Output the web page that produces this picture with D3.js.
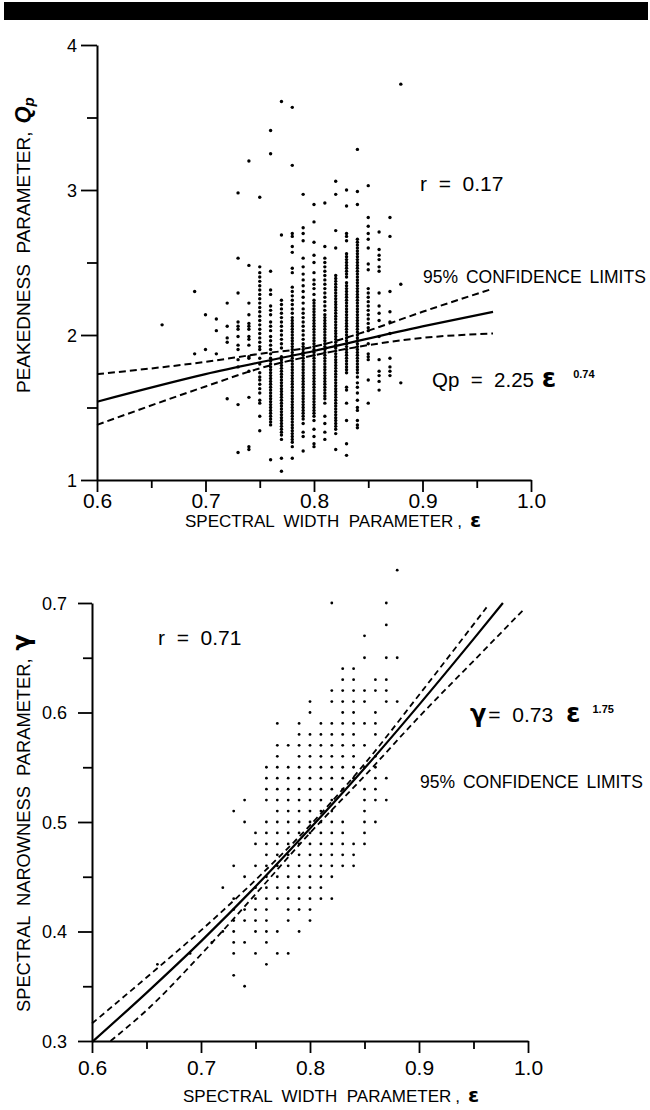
<!DOCTYPE html>
<html><head><meta charset="utf-8">
<script src="https://cdn.jsdelivr.net/npm/d3@7"></script>
<style>
body{margin:0;background:#fff;}
svg{display:block;font-family:"Liberation Sans",Arial,Helvetica,sans-serif;}
text{fill:#000;}
</style></head><body>
<svg id="c" width="650" height="1110"></svg>
<script>
// ---------- TOP PANEL DATA (peakedness Qp vs spectral width eps) ----------
const topEps = [0.66,0.69,0.70,0.71,0.72,0.73,0.74,0.75,0.76,0.77,0.78,0.79,0.80,0.81,0.82,0.83,0.84,0.85,0.86,0.87,0.88];
const topQp = [
 [2.07],
 [2.30,1.87],
 [2.14,1.90],
 [2.11,2.03,1.87],
 [2.22,2.06,1.98,1.95,1.56],
 [2.98,2.53,2.29,2.09,2.06,2.04,1.99,1.93,1.90,1.83,1.78,1.52,1.19],
 [3.20,2.48,2.22,2.14,2.08,2.06,2.04,1.99,1.97,1.93,1.85,1.84,1.75,1.57,1.23,1.21],
 [2.95,2.47,2.43,2.40,2.37,2.34,2.31,2.28,2.25,2.22,2.19,2.16,2.13,2.10,2.07,2.04,2.01,1.98,1.95,1.92,1.90,1.84,1.80,1.74,1.71,1.69,1.66,1.63,1.60,1.55,1.53,1.44,1.34],
 [3.41,3.25,2.44,2.31,2.28,2.20,2.17,2.14,2.09,2.06,2.03,1.99,1.96,1.93,1.90,1.87,1.84,1.82,1.80,1.78,1.76,1.74,1.72,1.70,1.68,1.66,1.64,1.62,1.60,1.58,1.56,1.54,1.52,1.50,1.48,1.46,1.44,1.42,1.40,1.38,1.14],
 [3.61,2.69,2.24,2.21,2.18,2.15,2.12,2.09,2.06,2.03,2.00,1.97,1.94,1.91,1.85,1.83,1.81,1.79,1.77,1.75,1.73,1.71,1.69,1.67,1.65,1.63,1.61,1.59,1.57,1.55,1.53,1.51,1.49,1.47,1.45,1.43,1.41,1.39,1.37,1.35,1.33,1.31,1.28,1.15,1.06],
 [3.57,3.17,2.70,2.68,2.61,2.57,2.46,2.43,2.33,2.30,2.27,2.24,2.21,2.18,2.15,2.12,2.10,2.08,2.06,2.04,2.02,2.00,1.98,1.96,1.94,1.92,1.90,1.88,1.86,1.84,1.82,1.80,1.78,1.76,1.74,1.72,1.70,1.68,1.66,1.64,1.62,1.60,1.58,1.56,1.54,1.52,1.50,1.48,1.46,1.44,1.42,1.40,1.38,1.36,1.34,1.32,1.30,1.28,1.26,1.23,1.15],
 [2.97,2.74,2.70,2.65,2.53,2.47,2.42,2.38,2.34,2.30,2.26,2.22,2.18,2.15,2.12,2.09,2.06,2.03,2.00,1.97,1.94,1.92,1.90,1.88,1.86,1.84,1.82,1.80,1.78,1.76,1.74,1.72,1.70,1.68,1.66,1.64,1.62,1.60,1.58,1.56,1.54,1.52,1.50,1.48,1.46,1.44,1.42,1.39,1.33,1.30,1.20],
 [2.90,2.78,2.64,2.55,2.50,2.43,2.38,2.35,2.32,2.28,2.24,2.22,2.20,2.18,2.16,2.14,2.12,2.10,2.08,2.06,2.04,2.02,2.00,1.98,1.96,1.94,1.92,1.90,1.88,1.86,1.84,1.82,1.80,1.78,1.76,1.74,1.72,1.70,1.68,1.66,1.64,1.62,1.60,1.58,1.56,1.54,1.52,1.50,1.48,1.46,1.44,1.41,1.35,1.30,1.25,1.23],
 [2.91,2.61,2.53,2.50,2.47,2.44,2.41,2.38,2.35,2.32,2.29,2.26,2.23,2.20,2.17,2.14,2.12,2.10,2.08,2.06,2.04,2.02,2.00,1.98,1.96,1.94,1.92,1.90,1.88,1.86,1.84,1.82,1.80,1.78,1.76,1.74,1.72,1.70,1.68,1.66,1.64,1.62,1.60,1.58,1.56,1.53,1.44,1.39,1.33,1.28],
 [3.06,2.97,2.72,2.60,2.41,2.39,2.37,2.35,2.33,2.31,2.29,2.27,2.25,2.23,2.21,2.19,2.17,2.15,2.13,2.11,2.09,2.07,2.05,2.03,2.01,1.99,1.97,1.95,1.93,1.91,1.89,1.87,1.85,1.83,1.81,1.79,1.77,1.75,1.73,1.71,1.69,1.67,1.65,1.63,1.61,1.59,1.57,1.55,1.53,1.51,1.49,1.47,1.45,1.43,1.41,1.39,1.37,1.35,1.32,1.21],
 [3.00,2.89,2.70,2.68,2.65,2.56,2.54,2.52,2.50,2.48,2.46,2.44,2.42,2.40,2.36,2.34,2.32,2.30,2.28,2.26,2.24,2.22,2.20,2.18,2.16,2.14,2.12,2.10,2.08,2.06,2.04,2.02,2.00,1.98,1.96,1.94,1.92,1.90,1.88,1.86,1.84,1.82,1.80,1.78,1.76,1.74,1.64,1.62,1.53,1.41,1.25,1.17],
 [3.28,2.99,2.90,2.66,2.64,2.62,2.60,2.58,2.56,2.54,2.52,2.50,2.48,2.46,2.44,2.42,2.40,2.38,2.36,2.34,2.32,2.30,2.28,2.26,2.24,2.22,2.20,2.18,2.16,2.14,2.12,2.10,2.08,2.06,2.04,2.02,2.00,1.98,1.96,1.94,1.92,1.90,1.88,1.86,1.84,1.82,1.80,1.78,1.76,1.74,1.71,1.67,1.64,1.60,1.55,1.50,1.48,1.41,1.38,1.36],
 [3.03,2.81,2.75,2.70,2.66,2.60,2.49,2.45,2.32,2.29,2.26,2.23,2.20,2.17,2.14,2.11,2.08,2.05,2.03,1.94,1.87,1.85,1.83,1.69,1.53],
 [2.71,2.59,2.55,2.52,2.47,2.44,2.29,2.20,2.15,2.10,1.99,1.83,1.75,1.72,1.68,1.62],
 [2.81,2.68,2.30,2.16,2.09,2.01,1.84,1.78,1.75,1.72],
 [3.73,2.35,1.67]
];
const topFitEps = [0.6,0.7,0.8,0.9,0.965];
const topFitQp  = [1.54,1.73,1.89,2.06,2.16];
const topUpEps  = [0.6,0.7,0.75,0.8,0.85,0.9,0.965];
const topUpQp   = [1.73,1.815,1.87,1.92,2.03,2.16,2.32];
const topLoEps  = [0.6,0.7,0.75,0.8,0.85,0.9,0.965];
const topLoQp   = [1.38,1.645,1.77,1.86,1.93,1.98,2.01];
const topYTicks = [1,2,3,4];
const topYMinor = [1.5,2.5,3.5];
const xTicks = [0.6,0.7,0.8,0.9,1.0];
const xMinor = [0.65,0.75,0.85,0.95];

// ---------- BOTTOM PANEL DATA (narrowness gamma vs eps) ----------
const botGamma = [0.73,0.70,0.68,0.67,0.65,0.64,0.63,0.62,0.61,0.60,0.59,0.58,0.57,0.56,0.55,0.54,0.53,0.52,0.51,0.50,0.49,0.48,0.47,0.46,0.45,0.44,0.43,0.42,0.41,0.40,0.39,0.38,0.37,0.36,0.35];
const botEpsRows = [
 [0.88],
 [0.82,0.87],
 [0.87],
 [0.85],
 [0.85,0.87,0.88],
 [0.83,0.84],
 [0.83,0.84,0.86,0.87],
 [0.82,0.83,0.84,0.85,0.86,0.87],
 [0.80,0.82,0.83,0.84,0.85,0.87,0.88],
 [0.80,0.83,0.84,0.86],
 [0.77,0.79,0.81,0.82,0.83,0.84,0.85,0.86],
 [0.79,0.80,0.81,0.82,0.83,0.84,0.86],
 [0.77,0.78,0.79,0.80,0.81,0.82,0.83,0.84,0.85],
 [0.77,0.79,0.80,0.81,0.82,0.83,0.84,0.86],
 [0.76,0.77,0.78,0.79,0.80,0.81,0.82,0.83,0.84,0.85,0.86],
 [0.76,0.77,0.78,0.79,0.80,0.81,0.82,0.83,0.84,0.86,0.87],
 [0.76,0.77,0.78,0.79,0.80,0.81,0.82,0.83,0.85,0.86],
 [0.74,0.76,0.77,0.78,0.79,0.80,0.81,0.82,0.85,0.86,0.87],
 [0.73,0.77,0.78,0.79,0.80,0.81,0.82,0.85],
 [0.74,0.76,0.77,0.78,0.79,0.80,0.81,0.82,0.83,0.85,0.86],
 [0.75,0.76,0.77,0.78,0.79,0.80,0.81,0.82,0.83,0.85],
 [0.75,0.76,0.77,0.78,0.79,0.80,0.81,0.82,0.83,0.84,0.85],
 [0.76,0.77,0.78,0.79,0.80,0.81,0.82,0.83,0.84],
 [0.73,0.75,0.76,0.77,0.78,0.79,0.80,0.81,0.82,0.83,0.84],
 [0.74,0.76,0.77,0.78,0.79,0.80,0.81,0.82],
 [0.72,0.75,0.76,0.77,0.78,0.79,0.80,0.81],
 [0.73,0.75,0.76,0.77,0.78,0.79,0.80,0.81,0.82],
 [0.73,0.74,0.75,0.76,0.78,0.79,0.80],
 [0.73,0.74,0.75,0.76,0.78,0.80],
 [0.72,0.73,0.75,0.76,0.77,0.79],
 [0.71,0.73,0.74,0.76],
 [0.69,0.73,0.75,0.77,0.78],
 [0.66,0.76],
 [0.73],
 [0.74]
];
const botFitEps = [0.6,0.65,0.7,0.75,0.8,0.85,0.9,0.95,0.977];
const botFitG   = [0.299,0.344,0.391,0.441,0.494,0.549,0.607,0.667,0.70];
const botUpEps  = [0.6,0.65,0.7,0.75,0.8,0.85,0.9,0.962];
const botUpG    = [0.316,0.358,0.401,0.447,0.497,0.553,0.616,0.696];
const botLoEps  = [0.617,0.65,0.7,0.75,0.8,0.85,0.9,0.95,0.995];
const botLoG    = [0.30,0.328,0.379,0.434,0.490,0.542,0.596,0.647,0.693];
const botYTicks = [0.3,0.4,0.5,0.6,0.7];
const botYMinor = [0.35,0.45,0.55,0.65];

// ---------- DRAW ----------
const svg = d3.select("#c");
svg.append("rect").attr("x",0).attr("y",0).attr("width",650).attr("height",1110).attr("fill","#fff");
svg.append("rect").attr("x",4).attr("y",2).attr("width",644).attr("height",18).attr("fill","#000");

function panel(o){
  const x = d3.scaleLinear().domain([0.6,1.0]).range(o.xr);
  const y = d3.scaleLinear().domain(o.yd).range(o.yr);
  const g = svg.append("g");
  g.append("g").attr("transform",`translate(0,${o.yr[0]})`)
   .call(d3.axisBottom(x).tickValues(xMinor).tickSize(8).tickFormat(""))
   .call(s=>s.select(".domain").remove());
  g.append("g").attr("transform",`translate(${o.xr[0]},0)`)
   .call(d3.axisLeft(y).tickValues(o.yMinor).tickSize(o.yMinorLen).tickFormat(""))
   .call(s=>s.select(".domain").remove());
  const ax = g.append("g").attr("transform",`translate(0,${o.yr[0]})`)
   .call(d3.axisBottom(x).tickValues(xTicks).tickSize(12).tickSizeOuter(0).tickFormat(d3.format(".1f")));
  ax.selectAll("text").attr("y",o.xLabOff).attr("dy",0).attr("font-size",21).attr("font-family","Liberation Sans, Arial, sans-serif");
  const ay = g.append("g").attr("transform",`translate(${o.xr[0]},0)`)
   .call(d3.axisLeft(y).tickValues(o.yTicks).tickSize(o.yMajLen).tickSizeOuter(0).tickPadding(o.yPad).tickFormat(o.yFmt));
  ay.selectAll("text").attr("font-size",18).attr("dy","0.36em").attr("font-family","Liberation Sans, Arial, sans-serif");
  g.selectAll(".domain").attr("stroke","#000").attr("stroke-width",2);
  g.selectAll(".tick line").attr("stroke","#000").attr("stroke-width",1.8);
  return {x,y,g};
}

// TOP
const T = panel({xr:[97,531], yd:[1,4], yr:[480,45], yTicks:topYTicks, yMinor:topYMinor,
  yMinorLen:10, yMajLen:16, yPad:4, yFmt:d3.format("d"), xLabOff:28});
const lineT = d3.line().x(d=>T.x(d[0])).y(d=>T.y(d[1])).curve(d3.curveMonotoneX);
T.g.append("g").selectAll("g").data(topEps).join("g").each(function(e,i){
  d3.select(this).selectAll("circle").data(topQp[i]).join("circle")
   .attr("cx",T.x(e)).attr("cy",d=>T.y(d)).attr("r",1.7).attr("fill","#000");
});
T.g.append("path").attr("d",lineT(d3.zip(topFitEps,topFitQp))).attr("fill","none").attr("stroke","#000").attr("stroke-width",2.2);
T.g.append("path").attr("d",lineT(d3.zip(topUpEps,topUpQp))).attr("fill","none").attr("stroke","#000").attr("stroke-width",2).attr("stroke-dasharray","7,4");
T.g.append("path").attr("d",lineT(d3.zip(topLoEps,topLoQp))).attr("fill","none").attr("stroke","#000").attr("stroke-width",2).attr("stroke-dasharray","7,4");

// BOTTOM
const B = panel({xr:[92,528], yd:[0.3,0.7], yr:[1041,603], yTicks:botYTicks, yMinor:botYMinor,
  yMinorLen:9, yMajLen:14, yPad:11, yFmt:d3.format(".1f"), xLabOff:34});
const lineB = d3.line().x(d=>B.x(d[0])).y(d=>B.y(d[1])).curve(d3.curveMonotoneX);
B.g.append("g").selectAll("g").data(botGamma).join("g").each(function(gv,i){
  d3.select(this).selectAll("circle").data(botEpsRows[i]).join("circle")
   .attr("cx",d=>B.x(d)).attr("cy",B.y(gv)).attr("r",1.4).attr("fill","#000");
});
B.g.append("path").attr("d",lineB(d3.zip(botFitEps,botFitG))).attr("fill","none").attr("stroke","#000").attr("stroke-width",2.2);
B.g.append("path").attr("d",lineB(d3.zip(botUpEps,botUpG))).attr("fill","none").attr("stroke","#000").attr("stroke-width",1.8).attr("stroke-dasharray","6,4");
B.g.append("path").attr("d",lineB(d3.zip(botLoEps,botLoG))).attr("fill","none").attr("stroke","#000").attr("stroke-width",1.8).attr("stroke-dasharray","6,4");

// ---------- TEXT ----------
function txt(x,y,s,size,opt={}){
  const t = svg.append("text").attr("x",x).attr("y",y).attr("font-size",size).style("white-space","pre").text(s);
  if(opt.bold) t.attr("font-weight","bold");
  if(opt.family) t.attr("font-family",opt.family);
  if(opt.ws) t.attr("word-spacing",opt.ws);
  return t;
}
const symFont = "DejaVu Sans, sans-serif";
function xTitle(x,y){
  const t = svg.append("text").attr("x",x).attr("y",y).attr("font-size",17).style("white-space","pre");
  t.append("tspan").text("SPECTRAL  WIDTH  PARAMETER");
  t.append("tspan").attr("dx",4).text(",");
  t.append("tspan").attr("dx",8).attr("font-weight","bold").attr("font-size",20).attr("font-family",symFont).text("ε");
}
// top annotations
txt(420,191,"r  =  0.17",21);
txt(423,283,"95% CONFIDENCE LIMITS",17.5,{ws:3});
const eqT = svg.append("text").attr("x",432).attr("y",387).attr("font-size",20.5).style("white-space","pre");
eqT.append("tspan").text("Qp  =  2.25 ");
eqT.append("tspan").attr("dx",2).attr("font-weight","bold").attr("font-size",26).attr("font-family",symFont).text("ε");
eqT.append("tspan").attr("dx",17).attr("dy",-9).attr("font-weight","bold").attr("font-size",11).text("0.74");
xTitle(185,527);
// top y title
const yt1 = svg.append("text").attr("transform","translate(30,393) rotate(-90)").attr("font-size",19).style("white-space","pre");
yt1.append("tspan").text("PEAKEDNESS  PARAMETER,");
yt1.append("tspan").attr("dx",8).attr("font-weight","bold").attr("font-style","italic").attr("font-size",22).text("Q");
yt1.append("tspan").attr("dy",4).attr("font-weight","bold").attr("font-style","italic").attr("font-size",15).text("p");

// bottom annotations
txt(158,645,"r  =  0.71",21);
const eqB = svg.append("text").attr("x",470).attr("y",722).attr("font-size",21).style("white-space","pre");
eqB.append("tspan").attr("font-weight","bold").attr("font-size",24).attr("font-family",symFont).text("γ");
eqB.append("tspan").attr("dx",2).text("=  0.73 ");
eqB.append("tspan").attr("dx",7).attr("font-weight","bold").attr("font-size",26).attr("font-family",symFont).text("ε");
eqB.append("tspan").attr("dx",12).attr("dy",-9).attr("font-weight","bold").attr("font-size",11).text("1.75");
txt(420,788,"95% CONFIDENCE LIMITS",17.5,{ws:3});
xTitle(183,1102);
// bottom y title
const yt2 = svg.append("text").attr("transform","translate(30,1012) rotate(-90)").attr("font-size",18.3).style("white-space","pre");
yt2.append("tspan").text("SPECTRAL  NAROWNESS  PARAMETER,");
yt2.append("tspan").attr("dx",8).attr("font-weight","bold").attr("font-size",24).attr("font-family",symFont).text("γ");
</script>
</body></html>
